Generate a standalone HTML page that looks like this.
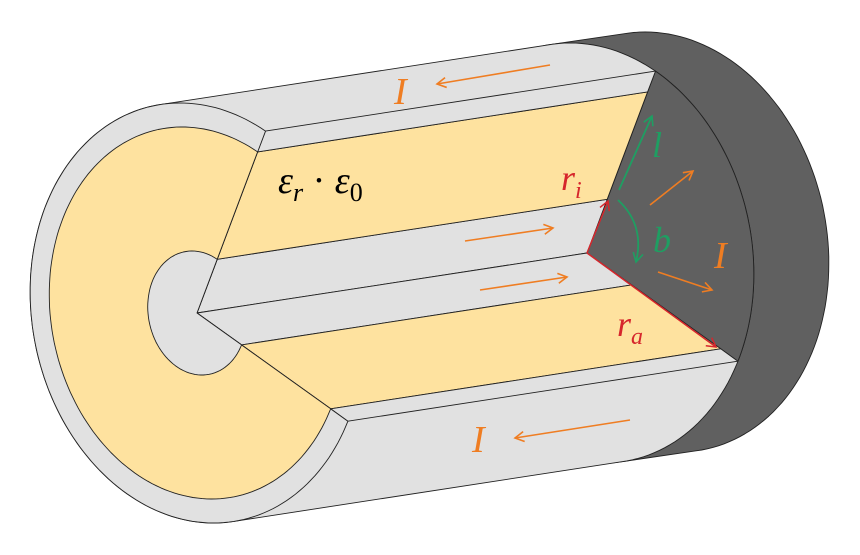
<!DOCTYPE html>
<html><head><meta charset="utf-8"><style>
html,body{margin:0;padding:0;background:#fff;}
svg{display:block;}
text{font-family:"Liberation Serif",serif;font-style:italic;}
</style></head><body>
<svg id="fig" width="860" height="555" viewBox="0 0 860 555" xmlns="http://www.w3.org/2000/svg">
<defs>
<marker id="ao" markerWidth="12" markerHeight="12" refX="10" refY="6" orient="auto" markerUnits="userSpaceOnUse"><path d="M1,1 L10,6 L1,11" fill="none" stroke="#ef7d22" stroke-width="1.6"/></marker>
<marker id="ag" markerWidth="12" markerHeight="12" refX="10" refY="6" orient="auto" markerUnits="userSpaceOnUse"><path d="M1,1 L10,6 L1,11" fill="none" stroke="#1f9e62" stroke-width="1.6"/></marker>
<marker id="ar" markerWidth="12" markerHeight="12" refX="10" refY="6" orient="auto" markerUnits="userSpaceOnUse"><path d="M1,1 L10,6 L1,11" fill="none" stroke="#d6262c" stroke-width="1.5"/></marker>
</defs>
<g id="geo"></g>
<g id="ann">
<line x1="550" y1="65" x2="437" y2="84" stroke="#ef7d22" stroke-width="1.6" marker-end="url(#ao)"/>
<text x="394" y="104" font-size="38" fill="#ef7d22">I</text>
<line x1="465" y1="241" x2="553" y2="228" stroke="#ef7d22" stroke-width="1.6" marker-end="url(#ao)"/>
<line x1="480" y1="290" x2="567" y2="277" stroke="#ef7d22" stroke-width="1.6" marker-end="url(#ao)"/>
<line x1="630" y1="420" x2="515" y2="438" stroke="#ef7d22" stroke-width="1.6" marker-end="url(#ao)"/>
<text x="472" y="452" font-size="38" fill="#ef7d22">I</text>
<text x="278" y="193" font-size="38" fill="#000">ε<tspan font-size="26" dy="8">r</tspan><tspan font-style="normal" dy="-8"> · </tspan>ε<tspan font-size="26" dy="8" font-style="normal">0</tspan></text>
<line x1="587" y1="253" x2="608" y2="201" stroke="#d6262c" stroke-width="1.5" marker-end="url(#ar)"/>
<text x="561" y="190" font-size="36" fill="#d6262c">r<tspan font-size="24" dy="8">i</tspan></text>
<line x1="587" y1="253" x2="716" y2="347" stroke="#d6262c" stroke-width="1.5" marker-end="url(#ar)"/>
<text x="617" y="336" font-size="36" fill="#d6262c">r<tspan font-size="24" dy="8">a</tspan></text>
<line x1="619" y1="190" x2="652" y2="116" stroke="#1f9e62" stroke-width="1.8" marker-end="url(#ag)"/>
<text x="652" y="157" font-size="36" fill="#1f9e62">l</text>
<path d="M618,200 Q645,225 636,262" fill="none" stroke="#1f9e62" stroke-width="1.8" marker-end="url(#ag)"/>
<text x="653" y="252" font-size="36" fill="#1f9e62">b</text>
<line x1="650" y1="205" x2="693" y2="171" stroke="#ef7d22" stroke-width="1.6" marker-end="url(#ao)"/>
<line x1="658" y1="272" x2="712" y2="290" stroke="#ef7d22" stroke-width="1.6" marker-end="url(#ao)"/>
<text x="714" y="268" font-size="38" fill="#ef7d22">I</text>
</g>
</svg>
<script>
const NS="http://www.w3.org/2000/svg";
const geo=document.getElementById('geo');
const CL=[197,313], T=[390,-60], T2=[75,-11];
const CR=[CL[0]+T[0],CL[1]+T[1]], CC=[CR[0]+T2[0],CR[1]+T2[1]];
const K=0.08;
const R_OUT=[166,210], R_DIE=[147,186], R_IN=[49,62];
const TUP=-60*Math.PI/180, TLO=31*Math.PI/180;
const GRAY="#e1e1e1", YEL="#fee29f", DARK="#606060";
function pt(c,r,t){return [c[0]+r[0]*Math.cos(t)+K*r[1]*Math.sin(t), c[1]+r[1]*Math.sin(t)];}
function arc(c,r,t0,t1,n){const a=[];for(let i=0;i<=n;i++){a.push(pt(c,r,t0+(t1-t0)*i/n));}return a;}
function hull(P){P=P.slice().sort((a,b)=>a[0]-b[0]||a[1]-b[1]);const cr=(o,a,b)=>(a[0]-o[0])*(b[1]-o[1])-(a[1]-o[1])*(b[0]-o[0]);const lo=[],up=[];for(const p of P){while(lo.length>=2&&cr(lo[lo.length-2],lo[lo.length-1],p)<=0)lo.pop();lo.push(p);}for(let i=P.length-1;i>=0;i--){const p=P[i];while(up.length>=2&&cr(up[up.length-2],up[up.length-1],p)<=0)up.pop();up.push(p);}up.pop();lo.pop();return lo.concat(up);}
function poly(pts,fill,name,sw){const e=document.createElementNS(NS,'path');


e.setAttribute('d','M'+pts.map(p=>p[0].toFixed(1)+','+p[1].toFixed(1)).join(' L')+' Z');e.setAttribute('fill',fill);e.setAttribute('stroke','#222');e.setAttribute('stroke-width',sw||0.9);e.setAttribute('stroke-linejoin','round');geo.appendChild(e);return e;}
const full=(c,r)=>arc(c,r,0,2*Math.PI,180);
// dark end cap
poly(hull(full(CR,R_OUT).concat(full(CC,R_OUT))),DARK,'end-cap');
// body silhouette
poly(hull(full(CL,R_OUT).concat(full(CR,R_OUT))),GRAY,'outer-shell-surface');
// dark wedge on right face
poly([CR].concat(arc(CR,R_OUT,TUP,TLO,60)),DARK,'cut-face-wedge');
// cut planes
function strips(t,tag){const radii=[[0,0],R_IN,R_DIE,R_OUT];const cols=[GRAY,YEL,GRAY];const nm=['inner-conductor','dielectric','outer-conductor'];
for(let i=0;i<3;i++){const a=radii[i][0]?pt(CL,radii[i],t):CL.slice();const b=pt(CL,radii[i+1],t);
const a2=[a[0]+T[0],a[1]+T[1]],b2=[b[0]+T[0],b[1]+T[1]];poly([a,b,b2,a2],cols[i],tag+'-'+nm[i]);}}
strips(TUP,'upper-cut');
strips(TLO,'lower-cut');
// left face C-shape
const t0=TLO,t1=TUP+2*Math.PI;
poly([CL].concat(arc(CL,R_OUT,t0,t1,150)),GRAY,'left-face-outer-conductor');
poly([CL].concat(arc(CL,R_DIE,t0,t1,150)),YEL,'left-face-dielectric');
poly([CL].concat(arc(CL,R_IN,t0,t1,80)),GRAY,'left-face-inner-conductor');
</script>
</body></html>
